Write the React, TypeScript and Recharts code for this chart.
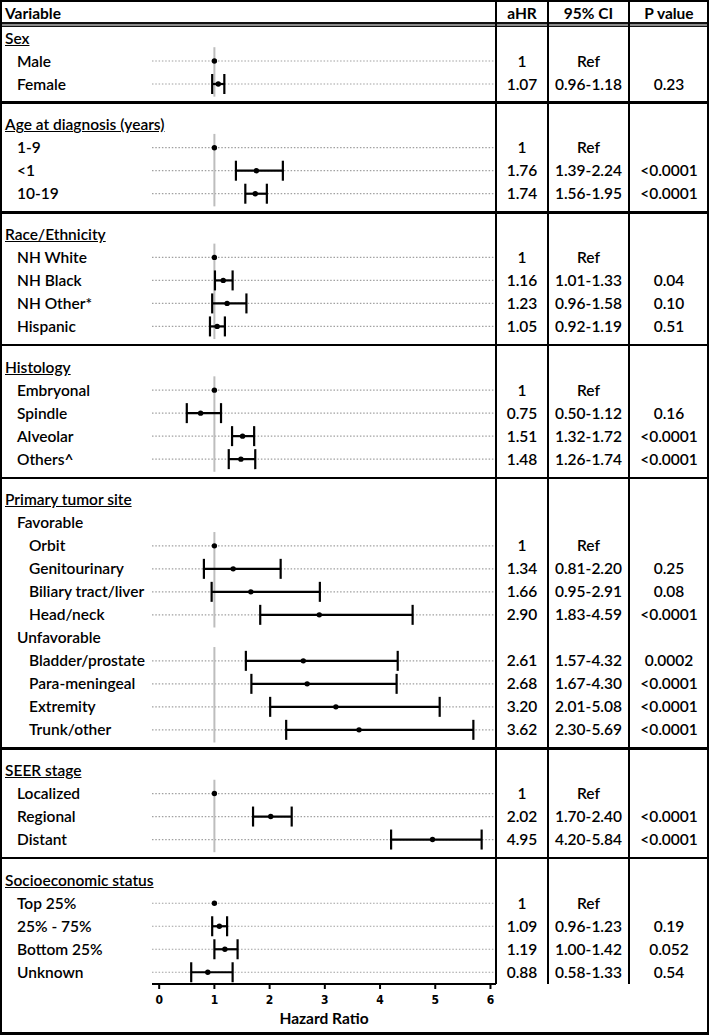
import React from 'react';
import { ScatterChart, Scatter, XAxis, YAxis, ErrorBar, ReferenceLine } from 'recharts';

// table content
const SECTIONS = [
  'Sex',
  'Age at diagnosis (years)',
  'Race/Ethnicity',
  'Histology',
  'Primary tumor site',
  'SEER stage',
  'Socioeconomic status',
];

const VARIABLES = [
  ['Male', 'Female'],
  ['1-9', '<1', '10-19'],
  ['NH White', 'NH Black', 'NH Other*', 'Hispanic'],
  ['Embryonal', 'Spindle', 'Alveolar', 'Others^'],
  [
    'Favorable', 'Orbit', 'Genitourinary', 'Biliary tract/liver', 'Head/neck',
    'Unfavorable', 'Bladder/prostate', 'Para-meningeal', 'Extremity', 'Trunk/other',
  ],
  ['Localized', 'Regional', 'Distant'],
  ['Top 25%', '25% - 75%', 'Bottom 25%', 'Unknown'],
];

// rows without an estimate of their own
const SUBGROUPS = ['Favorable', 'Unfavorable'];

// one entry per estimate row, in table order (null = reference category)
const AHR = [
  1, 1.07,
  1, 1.76, 1.74,
  1, 1.16, 1.23, 1.05,
  1, 0.75, 1.51, 1.48,
  1, 1.34, 1.66, 2.9, 2.61, 2.68, 3.2, 3.62,
  1, 2.02, 4.95,
  1, 1.09, 1.19, 0.88,
];
const CI_LOW = [
  null, 0.96,
  null, 1.39, 1.56,
  null, 1.01, 0.96, 0.92,
  null, 0.5, 1.32, 1.26,
  null, 0.81, 0.95, 1.83, 1.57, 1.67, 2.01, 2.3,
  null, 1.7, 4.2,
  null, 0.96, 1.0, 0.58,
];
const CI_HIGH = [
  null, 1.18,
  null, 2.24, 1.95,
  null, 1.33, 1.58, 1.19,
  null, 1.12, 1.72, 1.74,
  null, 2.2, 2.91, 4.59, 4.32, 4.3, 5.08, 5.69,
  null, 2.4, 5.84,
  null, 1.23, 1.42, 1.33,
];
const P_VALUES = [
  '', '0.23',
  '', '<0.0001', '<0.0001',
  '', '0.04', '0.10', '0.51',
  '', '0.16', '<0.0001', '<0.0001',
  '', '0.25', '0.08', '<0.0001', '0.0002', '<0.0001', '<0.0001', '<0.0001',
  '', '<0.0001', '<0.0001',
  '', '0.19', '0.052', '0.54',
];

const X_TICKS = [0, 1, 2, 3, 4, 5, 6];

// layout
const W = 709;
const H = 1035;
const PLOT_TOP = 38;
const PLOT_BOTTOM = 984;
const PLOT_LEFT = 152;
const PLOT_RIGHT = 496;
const ROW_H = 23;
const Y_MAX = (PLOT_BOTTOM - PLOT_TOP) / ROW_H;
const SECTION_GAP = 0.77;
const COL_LINES = [496, 548, 629];
const FONT = "Lato, 'Open Sans', sans-serif";
const FONT_SIZE = 15.5;

type Row = {
  label: string;
  level: number;
  slot: number;
  hr?: number;
  lo?: number | null;
  hi?: number | null;
  p?: string;
};

const rows: Row[] = [];
const groups: { from: number; to: number }[] = [];
const separators: number[] = [];
{
  let slot = 0;
  let k = 0;
  SECTIONS.forEach((title, s) => {
    if (s > 0) {
      slot += SECTION_GAP;
      separators.push(slot - 0.96);
    }
    rows.push({ label: title, level: 0, slot });
    slot += 1;
    let group: { from: number; to: number } | null = null;
    let inSub = false;
    VARIABLES[s].forEach((label) => {
      if (SUBGROUPS.includes(label)) {
        rows.push({ label, level: 1, slot });
        inSub = true;
        group = null;
        slot += 1;
        return;
      }
      const i = k++;
      rows.push({
        label,
        level: inSub ? 2 : 1,
        slot,
        hr: AHR[i],
        lo: CI_LOW[i],
        hi: CI_HIGH[i],
        p: P_VALUES[i],
      });
      if (!group) {
        group = { from: slot, to: slot };
        groups.push(group);
      } else {
        group.to = slot;
      }
      slot += 1;
    });
  });
}

const estRows = rows.filter((r) => r.hr !== undefined);
const refPoints = estRows.filter((r) => r.lo == null).map((r) => ({ x: r.hr, y: r.slot }));
const ciPoints = estRows
  .filter((r) => r.lo != null)
  .map((r) => ({ x: r.hr, y: r.slot, err: [r.hr! - r.lo!, r.hi! - r.hr!] }));

// same linear mapping as the y axis (domain [0, Y_MAX] over PLOT_TOP..PLOT_BOTTOM)
const slotToPx = (s: number) => PLOT_TOP + s * ROW_H;

const Dot = (props: any) => <circle cx={props.cx} cy={props.cy} r={2.7} fill="#000" />;

export default function App() {
  const textStyle: React.CSSProperties = {
    position: 'absolute',
    height: 23,
    lineHeight: '23px',
    fontFamily: FONT,
    fontSize: FONT_SIZE,
    fontWeight: 600,
    color: '#000',
    whiteSpace: 'nowrap',
  };
  const headStyle: React.CSSProperties = { ...textStyle, top: 2, fontWeight: 700, textAlign: 'center' };
  const cell = (left: number, right: number, top: number, text: string, key: string) => (
    <div key={key} style={{ ...textStyle, top, left, width: right - left, textAlign: 'center' }}>
      {text}
    </div>
  );

  return (
    <div style={{ position: 'relative', width: W, height: H, background: '#fff', overflow: 'hidden' }}>
      <style>{'body{margin:0}'}</style>

      <ScatterChart
        width={W}
        height={H}
        margin={{ top: PLOT_TOP, right: W - PLOT_RIGHT, bottom: 0, left: PLOT_LEFT }}
      >
        <XAxis
          type="number"
          dataKey="x"
          domain={[-0.13, 6.1]}
          ticks={X_TICKS}
          allowDataOverflow
          height={H - PLOT_BOTTOM}
          tickSize={5}
          tickMargin={6}
          axisLine={{ stroke: '#000', strokeWidth: 2 }}
          tickLine={{ stroke: '#000', strokeWidth: 2 }}
          tick={{
            fontFamily: "'Liberation Sans Narrow', 'DejaVu Sans Condensed', sans-serif",
            fontSize: 12,
            fontWeight: 700,
            fill: '#000',
          }}
          label={{
            value: 'Hazard Ratio',
            position: 'insideBottom',
            offset: 11,
            style: { fontFamily: FONT, fontSize: 15.5, fontWeight: 700, fill: '#000' },
          }}
        />
        <YAxis type="number" dataKey="y" domain={[0, Y_MAX]} reversed allowDataOverflow hide />
        {estRows.map((r) => (
          <ReferenceLine
            key={`dot-${r.label}`}
            y={r.slot}
            stroke="#a0a0a0"
            strokeWidth={1.2}
            strokeDasharray="1.5 1.8"
          />
        ))}
        {groups.map((g) => (
          <ReferenceLine
            key={`ref-${g.from}`}
            segment={[
              { x: 1, y: g.from - 0.6 },
              { x: 1, y: g.to + 0.55 },
            ]}
            stroke="#bdbdbd"
            strokeWidth={2}
          />
        ))}
        <Scatter data={refPoints} isAnimationActive={false} shape={Dot} />
        <Scatter data={ciPoints} isAnimationActive={false} shape={Dot}>
          <ErrorBar dataKey="err" direction="x" width={10} stroke="#000" strokeWidth={2.2} isAnimationActive={false} />
        </Scatter>
      </ScatterChart>

      {/* row labels and table cells */}
      {rows.map((r) => {
        const top = slotToPx(r.slot) - 11.5;
        return (
          <React.Fragment key={`row-${r.slot}`}>
            <div
              style={{
                ...textStyle,
                top,
                left: 5 + r.level * 12,
                textDecoration: r.level === 0 ? 'underline' : 'none',
              }}
            >
              {r.label}
            </div>
            {r.hr !== undefined && [
              cell(COL_LINES[0], COL_LINES[1], top, r.lo == null ? '1' : r.hr.toFixed(2), 'a'),
              cell(
                COL_LINES[1],
                COL_LINES[2],
                top,
                r.lo == null ? 'Ref' : `${r.lo.toFixed(2)}-${r.hi!.toFixed(2)}`,
                'c',
              ),
              cell(COL_LINES[2], W, top, r.p || '', 'p'),
            ]}
          </React.Fragment>
        );
      })}

      {/* table header */}
      <div style={{ ...headStyle, left: 5, textAlign: 'left' }}>Variable</div>
      <div style={{ ...headStyle, left: COL_LINES[0], width: COL_LINES[1] - COL_LINES[0] }}>aHR</div>
      <div style={{ ...headStyle, left: COL_LINES[1], width: COL_LINES[2] - COL_LINES[1] }}>95% CI</div>
      <div style={{ ...headStyle, left: COL_LINES[2], width: W - COL_LINES[2] }}>P value</div>

      {/* header rule */}
      <div
        style={{
          position: 'absolute',
          left: 0,
          top: 22,
          width: W,
          height: 5,
          boxSizing: 'border-box',
          borderTop: '2px solid #111',
          borderBottom: '1.5px solid #111',
          background: '#8a8a8a',
        }}
      />

      {/* column rules */}
      {COL_LINES.map((x) => (
        <div
          key={x}
          style={{ position: 'absolute', left: x - 1, top: 0, width: 2.2, height: PLOT_BOTTOM, background: '#000' }}
        />
      ))}

      {/* section rules */}
      {separators.map((s) => (
        <div
          key={s}
          style={{ position: 'absolute', left: 0, top: slotToPx(s) - 1.2, width: W, height: 2.4, background: '#000' }}
        />
      ))}

      {/* frame */}
      <div
        style={{
          position: 'absolute',
          inset: 0,
          border: '2px solid #000',
          borderBottomWidth: 3,
          pointerEvents: 'none',
        }}
      />
    </div>
  );
}
